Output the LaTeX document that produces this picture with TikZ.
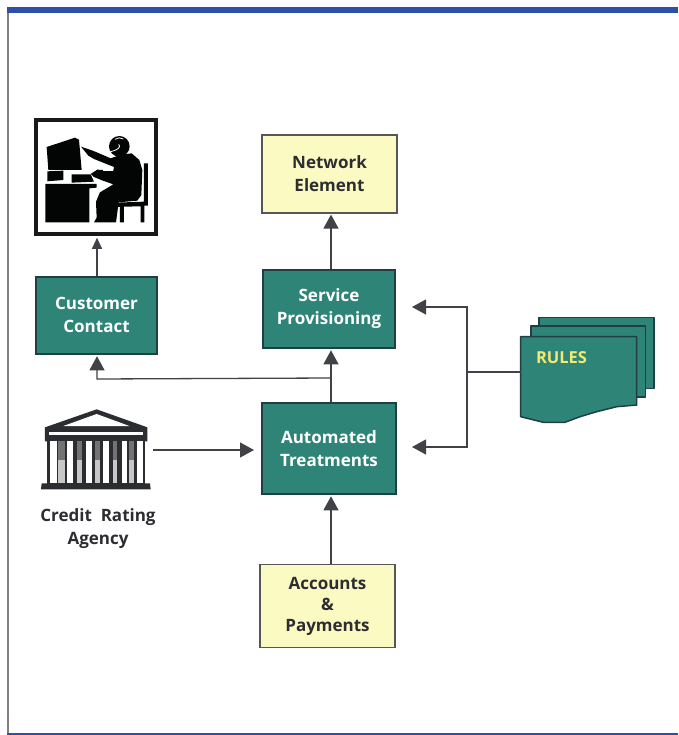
\documentclass[tikz,border=0pt]{standalone}
\usepackage{fontspec}
\setmainfont{Open Sans}
\usetikzlibrary{arrows.meta}
\definecolor{teal1}{HTML}{2F8478}
\definecolor{edge1}{HTML}{1F3F45}
\definecolor{cream}{HTML}{FBFAC2}
\definecolor{ink}{HTML}{2B2D30}
\definecolor{blue1}{HTML}{2F50A8}
\definecolor{rulesy}{HTML}{F2EA70}
\tikzset{
  basebox/.style={inner sep=0pt,align=center,font=\fontsize{17}{23}\selectfont\bfseries},
  tealbox/.style={basebox,fill=teal1,draw=edge1,line width=1.6pt,text=white},
  creambox/.style={basebox,fill=cream,draw=ink!80,line width=1.2pt,text=ink},
  plainlabel/.style={basebox,text=ink},
  ghost/.style={inner sep=0pt},
  flow/.style={draw=ink!90,line width=1.3pt,-{Triangle[length=14pt,width=15pt]}},
  thin flow/.style={draw=ink!90,line width=1.1pt,-{Triangle[length=11pt,width=10pt]}},
  wire/.style={draw=ink!90,line width=1.2pt},
  sheet/.style={fill=teal1,draw=edge1,line width=1.5pt,line join=round},
  blackfill/.style={fill=black!92!ink}
}
\begin{document}
\begin{tikzpicture}[x=1pt,y=-1pt]
\useasboundingbox (0,0) rectangle (678,735);
\fill[white] (0,0) rectangle (678,735);
% frame
\fill[black!50] (7,13) rectangle (9,733);
\fill[blue1] (7,7.5) rectangle (678,13.5);
\fill[blue1] (7,733) rectangle (678,735);

% boxes
\node[creambox,minimum width=135pt,minimum height=78pt] (net) at (329.5,174) {Network\\Element};
\node[tealbox,minimum width=132pt,minimum height=78pt] (serv) at (329,309) {Service\\Provisioning};
\node[tealbox,minimum width=134pt,minimum height=91pt] (auto) at (329,448.5) {Automated\\Treatments};
\node[creambox,minimum width=135pt,minimum height=83pt] (acct) at (327.5,606) {\raisebox{0pt}{Accounts}\\[-2pt]\&\\[-2pt]Payments};
\node[tealbox,minimum width=121pt,minimum height=77pt] (cust) at (96.5,315.5) {\raisebox{1.5pt}{Customer}\\\raisebox{1.5pt}{Contact}};

% agent icon
\node[ghost,draw=black!90,fill=white,line width=3.6pt,minimum width=120pt,minimum height=114pt] (agent) at (96,177) {};
\begin{scope}[shift={(20,105)},x=0.3333pt,y=-0.3333pt]
  \fill[blackfill] (80,126) -- (165,98) -- (177,104) -- (185,195) -- (85,195) -- cycle;
  \fill[white] (130,197) rectangle (150,205);
  \fill[blackfill] (82,199) -- (130,197) -- (130,225) -- (82,229) -- cycle;
  \fill[blackfill] (155,208) -- (212,208) -- (222,230) -- (155,233) -- cycle;
  \fill[blackfill] (76,237) -- (230,237) -- (230,248) -- (208,250) -- (208,352) -- (76,352) -- cycle;
  % chair
  \fill[blackfill] (372,175) -- (384,175) -- (384,302) -- (373,302) -- (373,352) -- (362,352) -- (362,304) -- (312,305) -- (312,352) -- (300,352) -- (300,306) -- (288,306) -- (288,293) -- (372,290) -- cycle;
  % body
  \fill[blackfill] (183,125) -- (215,136) -- (228,141) -- (272,160) -- (300,150) -- (335,145) -- (358,165) -- (367,195) -- (364,270) -- (352,287) -- (296,292) -- (288,352) -- (222,352) -- (230,338) -- (228,290) -- (240,262) -- (280,238) -- (246,226) -- (222,216) -- (212,207) -- (232,194) -- (280,197) -- (282,186) -- (222,162) -- (205,152) -- cycle;
  \fill[blackfill] (298,124) circle[radius=31];
  \draw[white,line width=0.8pt] (285,103) .. controls (292,97) and (303,97) .. (310,102);
  \draw[white,line width=0.8pt] (296,118) .. controls (303,125) and (298,134) .. (268,141);
  \draw[white,line width=0.8pt] (280,197) -- (248,197);
\end{scope}

% bank icon
\node[ghost,minimum width=110pt,minimum height=80pt] (bank) at (96,449) {};
\begin{scope}[shift={(30,400)},x=0.3333pt,y=-0.3333pt]
  \fill[ink] (45,82) -- (200,28) -- (352,82) -- (352,124) -- (45,124) -- cycle;
  \fill[white] (100,78) -- (200,42) -- (298,78) -- cycle;
  \fill[white] (57,96) rectangle (340,106);
  \fill[ink] (50,122) rectangle (345,252);
  \foreach \a/\b in {60/80,110/128,168/185,220/238,275/292,322/338}
    \fill[white] (\a,122) rectangle (\b,248);
  \foreach \a/\b in {85/105,140/155,195/210,248/262,298/312}{
    \fill[black!55] (\a,122) rectangle (\b,180);
    \fill[black!22] (\a,180) rectangle (\b,248);
  }
  \fill[ink] (35,250) -- (360,250) -- (362,268) -- (33,268) -- cycle;
\end{scope}
\node[plainlabel] (banklabel) at (98,529) {Credit\ \ Rating\\Agency};

% rules sheets
\draw[sheet] (539,317.7) rectangle (654,388.5);
\draw[sheet] (531,326) rectangle (645.3,397);
\draw[sheet] (520.7,336.7) -- (636.7,336.7) -- (636.7,405) -- (616.7,406.7) -- (596.7,411.7) -- (580,416.7) -- (565,422.3) -- (543.3,422.3) -- (520.7,416.7) -- cycle;
\node[ghost,minimum width=116pt,minimum height=85pt] (rules) at (578.7,379.5) {};
\node[ghost,text=rulesy,font=\fontsize{16.5}{20}\selectfont\bfseries] (ruleslabel) at (561.5,358) {RULES};

% junctions
\coordinate (jn) at (331,378);
\coordinate (left) at (97,379);
\coordinate (jr) at (467,372);
\coordinate (tops) at (412,307);
\coordinate (topa) at (412,447);
\coordinate (ba) at (254,450);

% connectors
\draw[thin flow] (cust.north -| left) -- ([yshift=-2pt]agent.south -| left);
\draw[flow] (serv.north -| jn) -- ([yshift=-1pt]net.south -| jn);
\draw[flow] (auto.north -| jn) -- ([yshift=-1.5pt]serv.south -| jn);
\draw[flow] (jn) -- (left) -- ([yshift=-1.5pt]cust.south -| left);
\draw[flow] ([xshift=2pt]bank.east |- ba) -- (ba);
\draw[flow] (acct.north -| jn) -- ([yshift=-1.5pt]auto.south -| jn);
\draw[wire] (rules.west |- jr) -- (jr);
\draw[flow] (jr) |- (tops);
\draw[flow] (jr) |- (topa);
\end{tikzpicture}
\end{document}
